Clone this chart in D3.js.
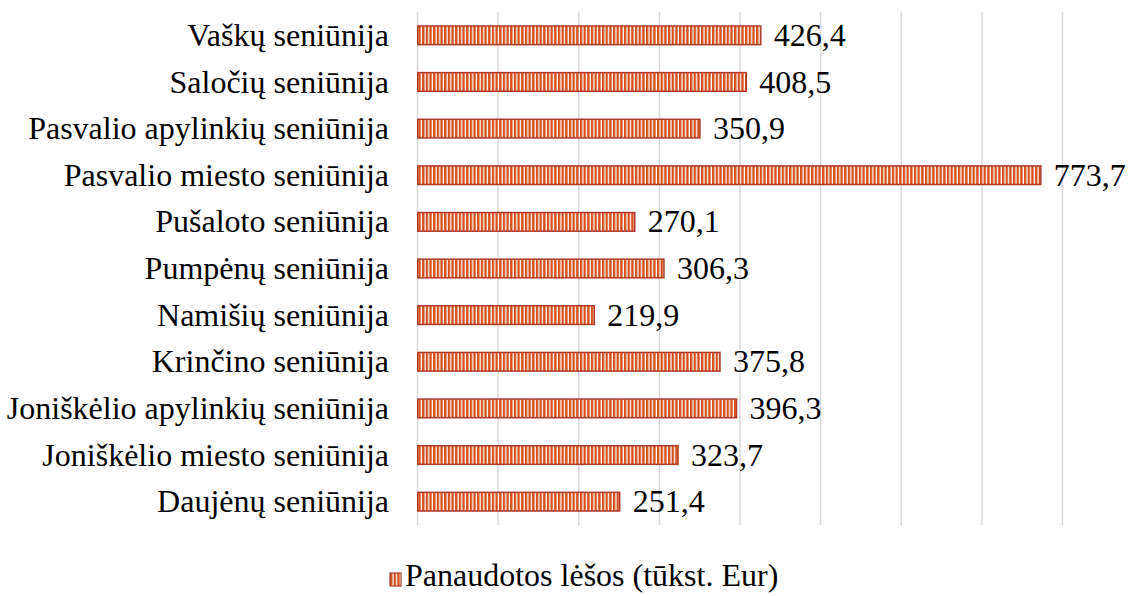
<!DOCTYPE html>
<html>
<head>
<meta charset="utf-8">
<script src="https://cdn.jsdelivr.net/npm/d3@7/dist/d3.min.js"></script>
<style>
  html, body { margin: 0; padding: 0; background: #fff; }
  svg { display: block; font-family: "Liberation Serif", "Times New Roman", Times, serif; }
  svg text { font-family: "Liberation Serif", "Times New Roman", Times, serif !important; }
</style>
</head>
<body>
<svg id="chart" width="1138" height="596"></svg>
<script>
// Seniūnijų panaudotos lėšos, tūkst. Eur (top to bottom)
const categories = [
  "Vaškų seniūnija",
  "Saločių seniūnija",
  "Pasvalio apylinkių seniūnija",
  "Pasvalio miesto seniūnija",
  "Pušaloto seniūnija",
  "Pumpėnų seniūnija",
  "Namišių seniūnija",
  "Krinčino seniūnija",
  "Joniškėlio apylinkių seniūnija",
  "Joniškėlio miesto seniūnija",
  "Daujėnų seniūnija"
];
const values = [426.4, 408.5, 350.9, 773.7, 270.1, 306.3, 219.9, 375.8, 396.3, 323.7, 251.4];
const xTicks = [0, 100, 200, 300, 400, 500, 600, 700, 800];
const seriesName = "Panaudotos lėšos (tūkst. Eur)";

const fontSize = "32px";

const svg = d3.select("#chart");
const plot = { left: 417, right: 1062, top: 12, bottom: 525 };

const x = d3.scaleLinear().domain([0, 800]).range([plot.left, plot.right]);
const y = d3.scaleBand().domain(categories).range([plot.top, plot.bottom]).paddingInner(0.6).paddingOuter(0.3);

// vertical stripe fill
const defs = svg.append("defs");
const pat = defs.append("pattern")
  .attr("id", "stripes")
  .attr("patternUnits", "userSpaceOnUse")
  .attr("width", 3.67).attr("height", 10);
pat.append("rect").attr("width", 3.67).attr("height", 10).attr("fill", "#d6501c");
pat.append("rect").attr("x", 2.4).attr("width", 1.27).attr("height", 10).attr("fill", "#ffffff");

// gridlines
svg.append("g")
  .attr("transform", `translate(0,${plot.bottom})`)
  .call(d3.axisBottom(x).tickValues(xTicks).tickSize(-(plot.bottom - plot.top)).tickFormat(""))
  .call(g => g.attr("font-family", null))
  .call(g => g.select(".domain").remove())
  .call(g => g.selectAll(".tick line").attr("stroke", "#d9d9d9").attr("stroke-width", 1.5));

// category labels
svg.append("g").selectAll("text").data(categories).join("text")
  .attr("x", plot.left - 28)
  .attr("y", d => y(d) + y.bandwidth() / 2)
  .attr("dy", "0.33em")
  .attr("text-anchor", "end")
  .style("font-size", fontSize)
  .attr("fill", "#000")
  .text(d => d);

// bars
const rows = categories.map((c, i) => ({ c, v: values[i] }));
svg.append("g").selectAll("rect").data(rows).join("rect")
  .attr("x", x(0) + 0.75)
  .attr("y", d => y(d.c))
  .attr("width", d => x(d.v) - x(0) - 0.75)
  .attr("height", y.bandwidth())
  .attr("fill", "url(#stripes)")
  .attr("stroke", "#ae3b2a")
  .attr("stroke-width", 1.5);

// value labels
svg.append("g").selectAll("text").data(rows).join("text")
  .attr("x", d => x(d.v) + 13)
  .attr("y", d => y(d.c) + y.bandwidth() / 2)
  .attr("dy", "0.33em")
  .style("font-size", fontSize)
  .attr("fill", "#000")
  .text(d => d.v.toFixed(1).replace(".", ","));

// legend
const lg = svg.append("g").attr("transform", "translate(390,573)");
lg.append("rect").attr("width", 11).attr("height", 13)
  .attr("fill", "url(#stripes)").attr("stroke", "#ae3b2a").attr("stroke-width", 1.2);
lg.append("text").attr("x", 15).attr("y", 13)
  .style("font-size", fontSize)
  .attr("fill", "#000")
  .text(seriesName);
</script>
</body>
</html>
